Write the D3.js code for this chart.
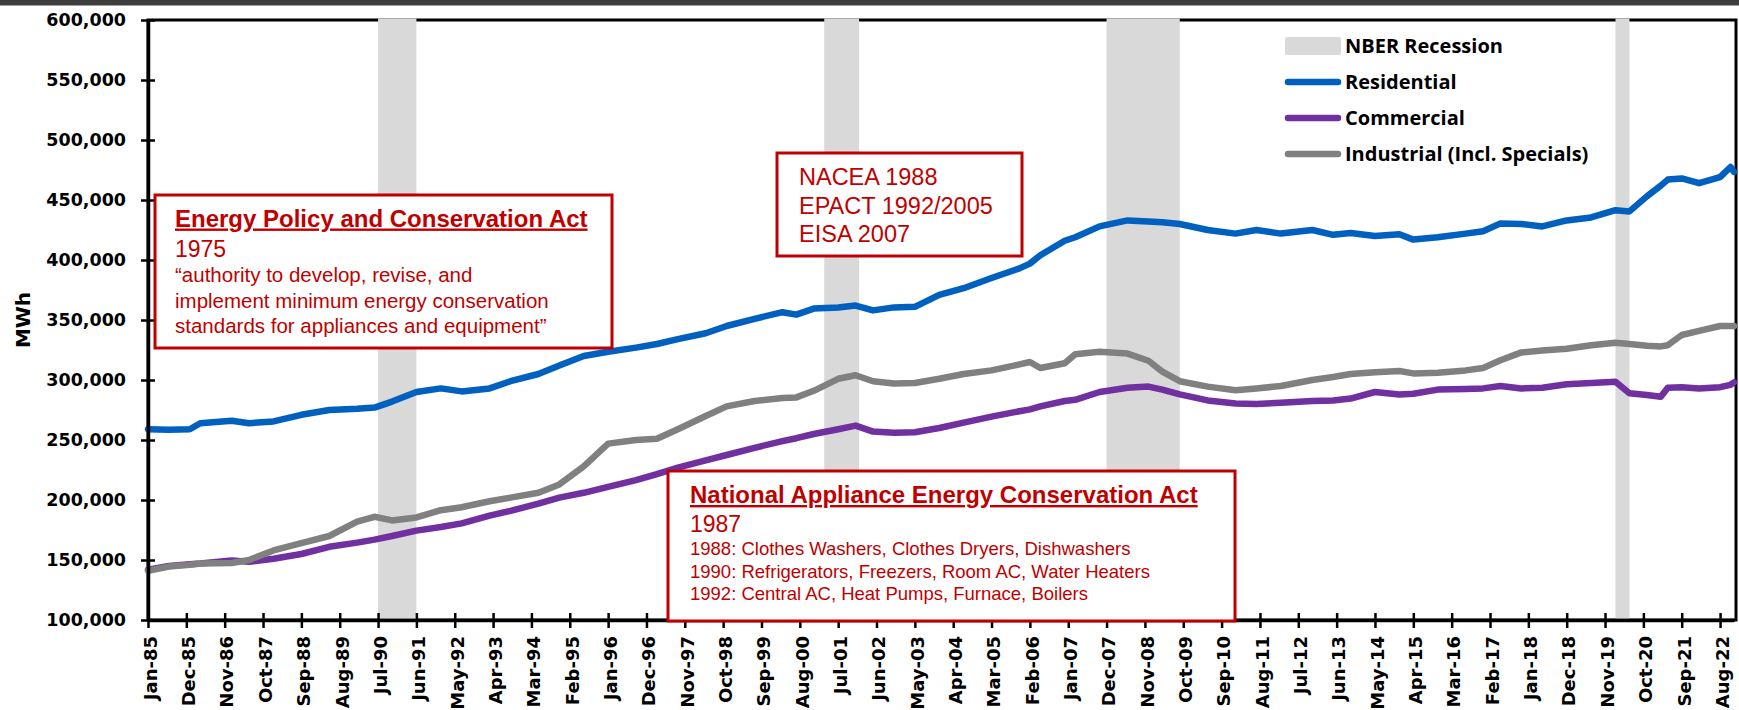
<!DOCTYPE html>
<html>
<head>
<meta charset="utf-8">
<script src="https://cdn.jsdelivr.net/npm/d3@7"></script>
<style>
  body { margin: 0; background: #fff; }
  svg { display: block; }
</style>
</head>
<body>
<svg id="chart"></svg>
<script>
const sampleMonths = [
  "Jan-85","Jul-85","Jan-86","Apr-86","Jan-87","Jun-87","Jan-88","Sep-88","May-89","Jan-90",
  "Jun-90","Nov-90","Jun-91","Jan-92","Jul-92","Mar-93","Sep-93","May-94","Nov-94","Jun-95",
  "Jan-96","Sep-96","Mar-97","Sep-97","May-98","Nov-98","Jul-99","Mar-00","Jul-00","Dec-00",
  "Jul-01","Dec-01","May-02","Nov-02","May-03","Dec-03","Jul-04","Mar-05","Nov-05","Feb-06",
  "May-06","Dec-06","Mar-07","Oct-07","Jun-08","Dec-08","Apr-09","Sep-09","May-10","Jan-11",
  "Jul-11","Feb-12","Nov-12","May-13","Oct-13","May-14","Dec-14","Apr-15","Nov-15","Jul-16",
  "Dec-16","May-17","Nov-17","May-18","Dec-18","Jul-19","Feb-20","Jun-20","Nov-20","Mar-21",
  "May-21","Sep-21","Feb-22","Aug-22","Nov-22","Dec-22"
];

const residential = [
  259000,258500,259000,264000,266000,264000,265500,271000,275000,276000,
  277000,282000,290000,293000,290500,293000,299000,305000,312000,320000,
  323500,327000,330000,334000,339000,345000,351000,356500,354500,359500,
  360500,362000,358000,360500,361000,371000,376500,385000,393000,397000,
  404000,416000,419000,428000,433000,432000,431500,430000,425000,422000,
  425000,422000,425000,421000,422500,420000,421500,417000,419000,422000,
  424000,430500,430000,428000,433000,435500,441500,440500,453000,462000,
  467000,468000,464000,469000,477500,473500
];

const commercial = [
  142000,145000,146500,147000,149500,148500,151000,155000,161000,164500,
  167000,170000,174500,177500,180500,187000,191000,197000,202000,206000,
  211000,216500,221500,227000,233000,237500,243500,249000,251500,255000,
  259000,262000,257000,256000,256500,260000,264500,269500,274000,275500,
  278000,282500,283500,290000,293500,294500,292000,288000,283000,280500,
  280000,281000,282500,283000,284500,290000,288000,288500,292000,292500,
  293000,295000,293000,293500,296500,297500,298500,289000,287500,286000,
  293500,294000,293000,294000,296000,298000
];

const industrial = [
  141000,144500,146000,147000,147500,150000,158000,164000,170000,182000,
  186000,183000,185500,191500,194000,199000,202000,206000,213000,228000,
  247000,250000,251000,259000,270000,278000,282500,285000,285500,291000,
  301000,304000,299000,297000,297500,301000,305000,308000,313000,315000,
  310000,314000,321500,323500,322000,316000,307000,299000,294500,291500,
  293000,295000,300000,302500,305000,306500,307500,305500,306000,308000,
  310000,316500,323000,324500,326000,329000,331000,330000,328500,328000,
  329000,337500,341000,345000,345000,345000
];

const seriesNames = ["Residential", "Commercial", "Industrial (Incl. Specials)"];
const seriesColors = ["#0060bf", "#7030a0", "#808080"];

const recessionStart = ["Jul-90", "Mar-01", "Dec-07", "Feb-20"];
const recessionEnd = ["Jun-91", "Jan-02", "Sep-09", "Jun-20"];

const tickLabels = [
  "Jan-85","Dec-85","Nov-86","Oct-87","Sep-88","Aug-89","Jul-90","Jun-91","May-92","Apr-93",
  "Mar-94","Feb-95","Jan-96","Dec-96","Nov-97","Oct-98","Sep-99","Aug-00","Jul-01","Jun-02",
  "May-03","Apr-04","Mar-05","Feb-06","Jan-07","Dec-07","Nov-08","Oct-09","Sep-10","Aug-11",
  "Jul-12","Jun-13","May-14","Apr-15","Mar-16","Feb-17","Jan-18","Dec-18","Nov-19","Oct-20",
  "Sep-21","Aug-22"
];
const yTicks = [100000, 150000, 200000, 250000, 300000, 350000, 400000, 450000, 500000, 550000, 600000];

const epcaText = [
  "Energy Policy and Conservation Act",
  "1975",
  "\u201cauthority to develop, revise, and",
  "implement minimum energy conservation",
  "standards for appliances and equipment\u201d"
];
const standardsText = ["NACEA 1988", "EPACT 1992/2005", "EISA 2007"];
const naecaText = [
  "National Appliance Energy Conservation Act",
  "1987",
  "1988: Clothes Washers, Clothes Dryers, Dishwashers",
  "1990: Refrigerators, Freezers, Room AC, Water Heaters",
  "1992: Central AC, Heat Pumps, Furnace, Boilers"
];

const w = 1739, h = 710;
const margin = { top: 20, right: 3, bottom: 90, left: 148 };
const plotRight = w - margin.right;
const plotBottom = h - margin.bottom;

const fmtMonth = d3.timeFormat("%b-%y");
const allMonths = d3.timeMonth.range(new Date(1985, 0, 1), new Date(2023, 0, 1)).map(fmtMonth);

const svg = d3.select("#chart").attr("width", w).attr("height", h);

svg.append("rect")
  .attr("x", 0).attr("y", 0).attr("width", w).attr("height", 5.5)
  .attr("fill", "#3d3d3d");

const xScale = d3.scalePoint()
  .domain(allMonths)
  .range([margin.left, plotRight - 2]);

const yScale = d3.scaleLinear()
  .domain([100000, 600000])
  .range([plotBottom, margin.top]);

// plot frame (top and right edges)
svg.append("rect")
  .attr("x", margin.left).attr("y", margin.top)
  .attr("width", plotRight - margin.left).attr("height", plotBottom - margin.top)
  .attr("fill", "none").attr("stroke", "#000").attr("stroke-width", 3);

// recession shading
svg.append("g")
  .selectAll("rect")
  .data(recessionStart.map((s, i) => [s, recessionEnd[i]]))
  .join("rect")
    .attr("x", d => xScale(d[0]))
    .attr("y", margin.top - 1.5)
    .attr("width", d => xScale(d[1]) - xScale(d[0]))
    .attr("height", plotBottom - margin.top)
    .attr("fill", "#d9d9d9");

const seriesValues = [residential, commercial, industrial];

const line = d3.line()
  .x(d => xScale(d[0]))
  .y(d => yScale(d[1]));

svg.append("g")
  .selectAll("path")
  .data(seriesValues)
  .join("path")
    .attr("d", vals => line(sampleMonths.map((m, i) => [m, vals[i]])))
    .attr("fill", "none")
    .attr("stroke", (d, i) => seriesColors[i])
    .attr("stroke-width", 6.5)
    .attr("stroke-linejoin", "round")
    .attr("stroke-linecap", "round");

// axes
const yAxis = svg.append("g")
  .attr("transform", `translate(${margin.left},0)`)
  .call(d3.axisLeft(yScale).tickValues(yTicks).tickFormat(d3.format(",")).tickSizeOuter(0).tickSize(0).tickPadding(22));
yAxis.select(".domain").attr("stroke-width", 3.5);
yAxis.selectAll(".tick line").attr("x1", -7).attr("x2", 7).attr("stroke-width", 2.5);
yAxis.selectAll(".tick text")
  .style("font-family", "'DejaVu Sans', sans-serif")
  .style("font-weight", "bold")
  .style("font-size", "17.5px")
  .attr("fill", "#000");

const xAxis = svg.append("g")
  .attr("transform", `translate(0,${plotBottom})`)
  .call(d3.axisBottom(xScale).tickValues(tickLabels).tickSizeOuter(0).tickSize(0));
xAxis.select(".domain").attr("stroke-width", 3.5);
xAxis.selectAll(".tick line").attr("y1", -7).attr("y2", 8).attr("stroke-width", 2.5);
xAxis.selectAll(".tick text")
  .attr("transform", "rotate(-90)")
  .attr("text-anchor", "end")
  .attr("x", -16)
  .attr("y", 2)
  .attr("dy", "0.35em")
  .style("font-family", "'DejaVu Sans', sans-serif")
  .style("font-weight", "bold")
  .style("font-size", "18px")
  .attr("fill", "#000");

svg.append("text")
  .attr("transform", `translate(30,${yScale(350000)}) rotate(-90)`)
  .attr("text-anchor", "middle")
  .style("font-family", "'DejaVu Sans', sans-serif")
  .style("font-weight", "bold")
  .style("font-size", "20px")
  .text("MWh");

// annotation boxes
const red = "#c00000";
const notes = svg.append("g");

function drawBox(x0, y0, x1, y1) {
  notes.append("rect")
    .attr("x", x0).attr("y", y0)
    .attr("width", x1 - x0).attr("height", y1 - y0)
    .attr("fill", "#fff")
    .attr("stroke", red)
    .attr("stroke-width", 3);
}

function addLine(x, y, str, size, bold) {
  return notes.append("text")
    .attr("x", x).attr("y", y)
    .attr("fill", red)
    .style("font-family", "'Liberation Sans', Arial, sans-serif")
    .style("font-size", size + "px")
    .style("font-weight", bold ? "bold" : "normal")
    .style("text-decoration", bold ? "underline" : "none")
    .text(str);
}

drawBox(155, 195, 612, 348);
addLine(175, 226.5, epcaText[0], 24, true);
addLine(175, 256.5, epcaText[1], 23, false);
addLine(175, 282, epcaText[2], 20.5, false);
addLine(175, 308, epcaText[3], 20.5, false);
addLine(175, 333, epcaText[4], 20.5, false);

drawBox(777, 153, 1022, 256);
standardsText.forEach((t, i) => addLine(799, 185 + i * 28.5, t, 23.5, false));

drawBox(668, 471, 1235, 621);
addLine(690, 503, naecaText[0], 24, true);
addLine(690, 532, naecaText[1], 23, false);
addLine(690, 555, naecaText[2], 18.5, false);
addLine(690, 577.5, naecaText[3], 18.5, false);
addLine(690, 599.5, naecaText[4], 18.5, false);

// legend
const legend = svg.append("g").attr("transform", "translate(1285,46)");
const legendFont = g => g
  .style("font-family", "'Open Sans', sans-serif")
  .style("font-weight", "bold")
  .style("font-size", "20px")
  .attr("fill", "#000");

legend.append("rect")
  .attr("x", 0).attr("y", -9).attr("width", 56).attr("height", 18)
  .attr("rx", 2).attr("fill", "#d9d9d9");
legend.append("text")
  .attr("x", 60).attr("y", 7)
  .call(legendFont)
  .text("NBER Recession");

seriesNames.forEach((name, i) => {
  const yy = 36 * (i + 1);
  legend.append("line")
    .attr("x1", 3).attr("x2", 53)
    .attr("y1", yy).attr("y2", yy)
    .attr("stroke", seriesColors[i])
    .attr("stroke-width", 6.5)
    .attr("stroke-linecap", "round");
  legend.append("text")
    .attr("x", 60).attr("y", yy + 7)
    .call(legendFont)
    .text(name);
});
</script>
</body>
</html>
